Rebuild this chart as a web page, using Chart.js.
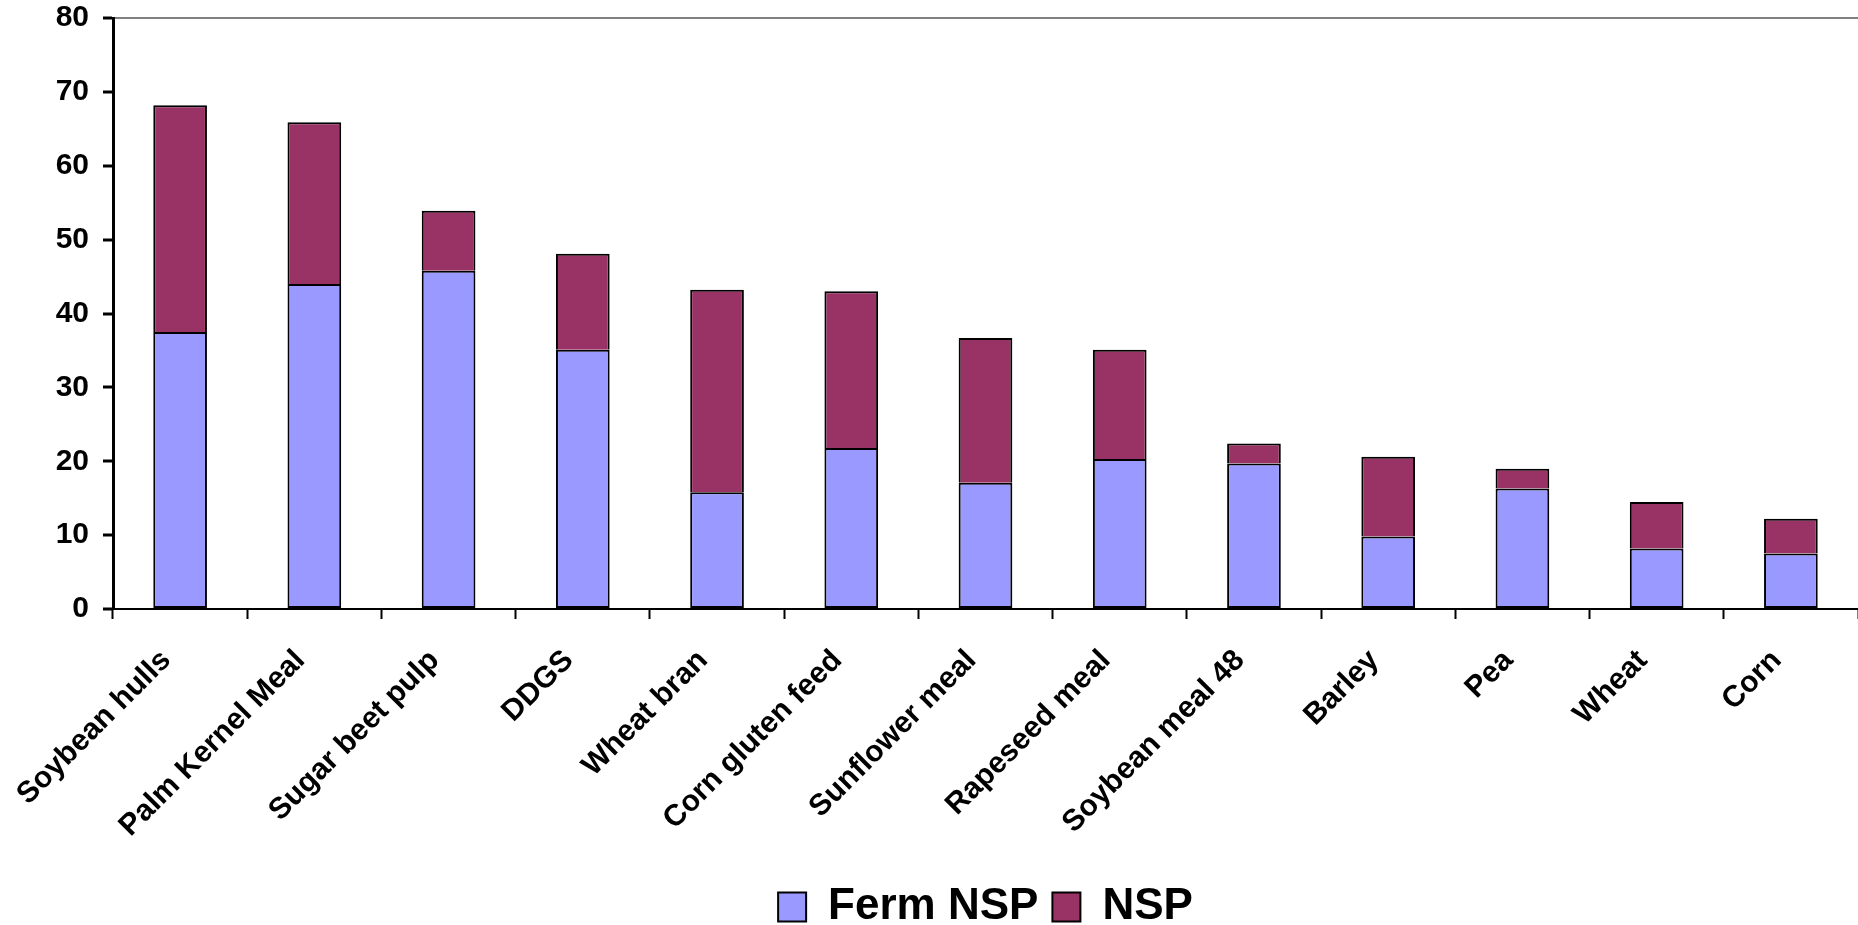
<!DOCTYPE html>
<html>
<head>
<meta charset="utf-8">
<script src="https://cdn.jsdelivr.net/npm/chart.js@4"></script>
<style>
  html, body { margin: 0; padding: 0; background: #fff; }
  #wrap { width: 1858px; height: 925px; position: relative; }
</style>
</head>
<body>
<div id="wrap"><canvas id="c" width="1858" height="925"></canvas></div>
<script>
// Feed ingredients, ordered by total NSP content
const ingredients = [
  'Soybean hulls', 'Palm Kernel Meal', 'Sugar beet pulp', 'DDGS', 'Wheat bran',
  'Corn gluten feed', 'Sunflower meal', 'Rapeseed meal', 'Soybean meal 48',
  'Barley', 'Pea', 'Wheat', 'Corn'
];
// Fermentable NSP (lower segment)
const fermNSP = [37.5, 44.0, 45.8, 35.1, 15.8, 21.8, 17.1, 20.3, 19.7, 9.8, 16.3, 8.2, 7.5];
// Remaining NSP stacked on top
const nsp = [30.7, 21.9, 8.1, 13.0, 27.4, 21.2, 19.6, 14.8, 2.7, 10.8, 2.7, 6.3, 4.7];
// Value axis
const yTicks = [0, 10, 20, 30, 40, 50, 60, 70, 80];

const FONT = "'Liberation Sans', Arial, Helvetica, sans-serif";

new Chart(document.getElementById('c'), {
  type: 'bar',
  data: {
    labels: ingredients,
    datasets: [
      {
        label: 'Ferm NSP',
        data: fermNSP,
        backgroundColor: '#9999FF',
        borderColor: '#000000',
        borderWidth: 2,
        borderSkipped: false
      },
      {
        label: 'NSP',
        data: nsp,
        backgroundColor: '#993366',
        borderColor: '#000000',
        borderWidth: 2,
        borderSkipped: 'bottom'
      }
    ]
  },
  options: {
    responsive: false,
    animation: false,
    devicePixelRatio: 1,
    layout: { padding: { top: 18, right: 0, left: 0, bottom: -14 } },
    datasets: { bar: { categoryPercentage: 1.0, barPercentage: 0.4 } },
    plugins: {
      tooltip: { enabled: false },
      legend: {
        position: 'bottom',
        fullSize: false,
        labels: {
          color: '#000',
          font: { family: FONT, size: 44, weight: 'bold' },
          boxWidth: 28,
          boxHeight: 29,
          padding: 14,
          generateLabels(chart) {
            return chart.data.datasets.map((ds, i) => ({
              text: ds.label,
              fillStyle: ds.backgroundColor,
              strokeStyle: '#000',
              lineWidth: 2,
              datasetIndex: i,
              fontColor: '#000'
            }));
          }
        }
      }
    },
    scales: {
      x: {
        stacked: true,
        offset: true,
        border: { display: true, color: '#000', width: 2 },
        grid: {
          offset: true,
          drawOnChartArea: false,
          drawTicks: true,
          tickLength: 10,
          tickColor: '#000',
          tickWidth: 2
        },
        ticks: {
          autoSkip: false,
          minRotation: 45,
          maxRotation: 45,
          padding: 24,
          labelOffset: -14,
          color: '#000',
          font: { family: FONT, size: 30, weight: 'bold' }
        },
        afterFit(scale) { scale.height = 262; }
      },
      y: {
        stacked: true,
        min: 0,
        max: 80,
        afterBuildTicks(scale) { scale.ticks = yTicks.map(v => ({ value: v })); },
        border: { display: true, color: '#000', width: 3 },
        grid: {
          drawTicks: true,
          tickLength: 10,
          tickColor: '#000',
          tickWidth: 3,
          lineWidth: 2,
          color: ctx => (ctx.tick && ctx.tick.value === 80) ? '#808080' : 'rgba(0,0,0,0)'
        },
        ticks: {
          padding: 14,
          color: '#000',
          font: { family: FONT, size: 30, weight: 'bold' }
        },
        afterFit(scale) {
          scale.width = 113;
          scale.paddingTop = 0;
          scale.paddingBottom = 0;
        }
      }
    }
  }
});
</script>
</body>
</html>
